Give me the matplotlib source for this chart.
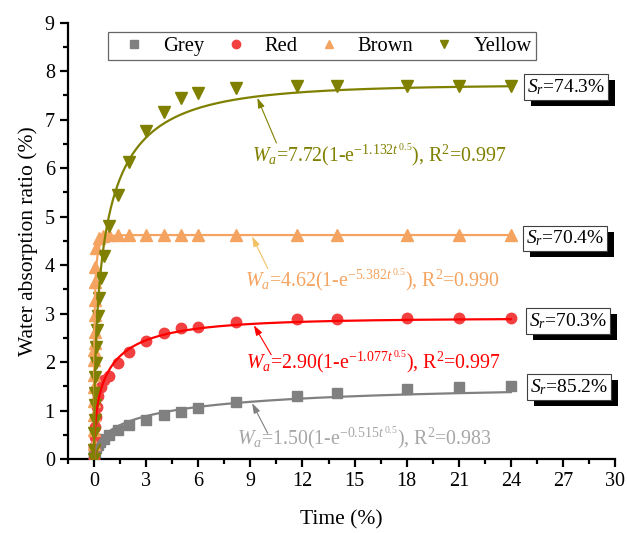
import numpy as np
import matplotlib
matplotlib.use("Agg")
import matplotlib.pyplot as plt
from matplotlib.ticker import MultipleLocator
from matplotlib.patches import Rectangle

plt.rcParams["font.family"] = ["Liberation Serif", "DejaVu Serif"]
plt.rcParams["mathtext.fontset"] = "custom"
plt.rcParams["mathtext.rm"] = "Liberation Serif"
plt.rcParams["mathtext.it"] = "Liberation Serif:italic"
plt.rcParams["mathtext.bf"] = "Liberation Serif:bold"

# ---- measured data: time and water absorption ratio (%) ----
t_grey = [0, 0.02, 0.06, 0.12, 0.2, 0.35, 0.55, 0.87, 1.35, 2.0, 3.0, 4.0, 5.0, 6.0,
          8.17, 11.67, 14.0, 18.0, 21.0, 24.0]
w_grey = [0, 0.08, 0.15, 0.22, 0.29, 0.35, 0.41, 0.50, 0.60, 0.70, 0.81, 0.90, 0.98, 1.05,
          1.17, 1.31, 1.36, 1.44, 1.49, 1.50]

t_red = [0, 0.01, 0.03, 0.06, 0.1, 0.16, 0.25, 0.4, 0.59, 0.84, 1.35, 2.0, 3.0, 4.0, 5.0,
         6.0, 8.17, 11.67, 14.0, 18.0, 21.0, 24.0]
w_red = [0, 0.25, 0.46, 0.67, 0.87, 1.08, 1.29, 1.49, 1.62, 1.72, 1.98, 2.20, 2.44, 2.60, 2.70,
         2.73, 2.83, 2.89, 2.89, 2.90, 2.90, 2.90]

t_brown = [0, 0.002, 0.004, 0.006, 0.008, 0.01, 0.013, 0.016, 0.02, 0.025, 0.03, 0.037, 0.045,
           0.055, 0.07, 0.1, 0.3, 0.5, 0.84, 1.35, 2.0, 3.0, 4.0, 5.0, 6.0, 8.17, 11.67, 14.0,
           18.0, 21.0, 24.0]
w_brown = [0, 0.3, 0.6, 0.9, 1.2, 1.49, 1.74, 2.05, 2.25, 2.40, 2.63, 2.98, 3.28, 3.66, 3.97,
           4.35, 4.55, 4.60, 4.62, 4.62, 4.62, 4.63, 4.63, 4.63, 4.63, 4.63, 4.63, 4.63,
           4.63, 4.63, 4.63]

t_yellow = [0, 0.01, 0.02, 0.03, 0.04, 0.05, 0.07, 0.09, 0.11, 0.17, 0.22, 0.3, 0.42, 0.55,
            0.84, 1.35, 2.0, 3.0, 4.0, 5.0, 6.0, 8.17, 11.67, 14.0, 18.0, 21.0, 24.0]
w_yellow = [0, 0.19, 0.53, 0.81, 1.12, 1.36, 1.70, 1.98, 2.32, 2.67, 2.94, 3.32, 3.73, 4.18,
            4.81, 5.45, 6.12, 6.76, 7.16, 7.45, 7.56, 7.66, 7.69, 7.69, 7.69, 7.70, 7.70]

# ---- fitted model W_a = A (1 - exp(-k t^0.5)) ----
fit_A = {"Grey": 1.50, "Red": 2.90, "Brown": 4.62, "Yellow": 7.72}
fit_k = {"Grey": 0.515, "Red": 1.077, "Brown": 5.382, "Yellow": 1.132}
fit_r2 = {"Grey": "0.983", "Red": "0.997", "Brown": "0.990", "Yellow": "0.997"}
saturation = {"Grey": "85.2%", "Red": "70.3%", "Brown": "70.4%", "Yellow": "74.3%"}

names = ["Grey", "Red", "Brown", "Yellow"]
data = {"Grey": (t_grey, w_grey), "Red": (t_red, w_red),
        "Brown": (t_brown, w_brown), "Yellow": (t_yellow, w_yellow)}
marker = {"Grey": "s", "Red": "o", "Brown": "^", "Yellow": "v"}
msize = {"Grey": 6.5, "Red": 7.5, "Brown": 8, "Yellow": 8}
mcolor = {"Grey": "#808080", "Red": "#F23F3F", "Brown": "#F4A460", "Yellow": "#808000"}
lcolor = {"Grey": "#808080", "Red": "#FF0000", "Brown": "#F4A460", "Yellow": "#808000"}
tcolor = {"Grey": "#A6A6A6", "Red": "#FF0000", "Brown": "#F4A460", "Yellow": "#808000"}
acolor = {"Grey": "#808080", "Red": "#FF0000", "Brown": "#F2C265", "Yellow": "#808000"}

fig = plt.figure(figsize=(6.27, 5.33), dpi=100)
ax = fig.add_axes([0.1085, 0.1388, 0.8725, 0.8186])

tt = np.linspace(0, np.sqrt(24), 600) ** 2
for n in names:
    t, w = data[n]
    ax.plot(t, w, linestyle="none", marker=marker[n], ms=msize[n], color=mcolor[n],
            mec=mcolor[n], label=n, zorder=3)
    ax.plot(tt, fit_A[n] * (1 - np.exp(-fit_k[n] * np.sqrt(tt))), color=lcolor[n],
            lw=1.6, zorder=4)

# equation labels: (text x, text y, arrow tip t)
eq_pos = {"Yellow": (16.4, 6.26, 9.4), "Brown": (16.0, 3.68, 9.1),
          "Red": (16.1, 1.99, 9.2), "Grey": (15.55, 0.42, 9.1)}
tail = {"Yellow": (10.5, 6.52), "Brown": (10.0, 3.93), "Red": (10.2, 2.15),
        "Grey": (10.0, 0.53)}
for n in names:
    x, y, ta = eq_pos[n]
    A, k = fit_A[n], fit_k[n]
    txt = (r"$W_a$=%.2f(1-e$^{-%.3ft^{\,0.5}}$), R$^2$=%s" % (A, k, fit_r2[n]))
    ax.text(x, y, txt, color=tcolor[n], fontsize=14.3, ha="center", va="center", zorder=5)
    wa = A * (1 - np.exp(-k * np.sqrt(ta)))
    ax.annotate("", xy=(ta, wa - 0.03), xytext=tail[n],
                arrowprops=dict(arrowstyle="-|>,head_length=0.6,head_width=0.2",
                                color=acolor[n], lw=0.8, shrinkA=0, shrinkB=0), zorder=5)

# saturation degree boxes with drop shadow
sr_pos = {"Yellow": (27.15, 7.67), "Brown": (27.1, 4.55), "Red": (27.3, 2.85),
          "Grey": (27.35, 1.49)}
sr_texts = []
for n in names:
    x, y = sr_pos[n]
    label = r"$S_r$=" + saturation[n]
    tx = ax.text(x, y, label, ha="center", va="center", fontsize=14, color="black",
                 bbox=dict(boxstyle="square,pad=0.15", fc="white", ec="#404040", lw=0.8),
                 zorder=7, clip_on=False)
    sr_texts.append(tx)

ax.set_xlim(-1.5, 30)
ax.set_ylim(0, 9)
ax.xaxis.set_major_locator(MultipleLocator(3))
ax.xaxis.set_minor_locator(MultipleLocator(1.5))
ax.yaxis.set_major_locator(MultipleLocator(1))
ax.yaxis.set_minor_locator(MultipleLocator(0.5))
ax.spines["top"].set_visible(False)
ax.spines["right"].set_visible(False)
for s in ("left", "bottom"):
    ax.spines[s].set_linewidth(1.6)
ax.tick_params(which="major", direction="out", length=6, width=1.6, labelsize=14.5)
ax.tick_params(which="minor", direction="out", length=3.5, width=1.6)
ax.set_xlabel("Time (%)", fontsize=15.5, labelpad=14)
ax.set_ylabel("Water absorption ratio (%)", fontsize=15.5, labelpad=5)

leg = ax.legend(loc="upper left", bbox_to_anchor=(0.073, 0.979), ncol=4, fontsize=14.8,
                frameon=True, fancybox=False, edgecolor="#404040", handlelength=2.14,
                handletextpad=0.34, columnspacing=0.44, borderpad=0.22, markerscale=0.8,
                borderaxespad=0)
leg.get_frame().set_linewidth(0.9)

# black shadow rectangles behind the saturation boxes
fig.canvas.draw()
renderer = fig.canvas.get_renderer()
inv = ax.transAxes.inverted()
for tx in sr_texts:
    bb = tx.get_bbox_patch().get_window_extent(renderer)
    (x0, y0), (x1, y1) = inv.transform([(bb.x0 + 7, bb.y0 - 6), (bb.x1 + 7, bb.y1 - 6)])
    ax.add_patch(Rectangle((x0, y0), x1 - x0, y1 - y0, transform=ax.transAxes,
                           fc="black", ec="none", zorder=6.5, clip_on=False))

fig.savefig("out.png", dpi=100)
